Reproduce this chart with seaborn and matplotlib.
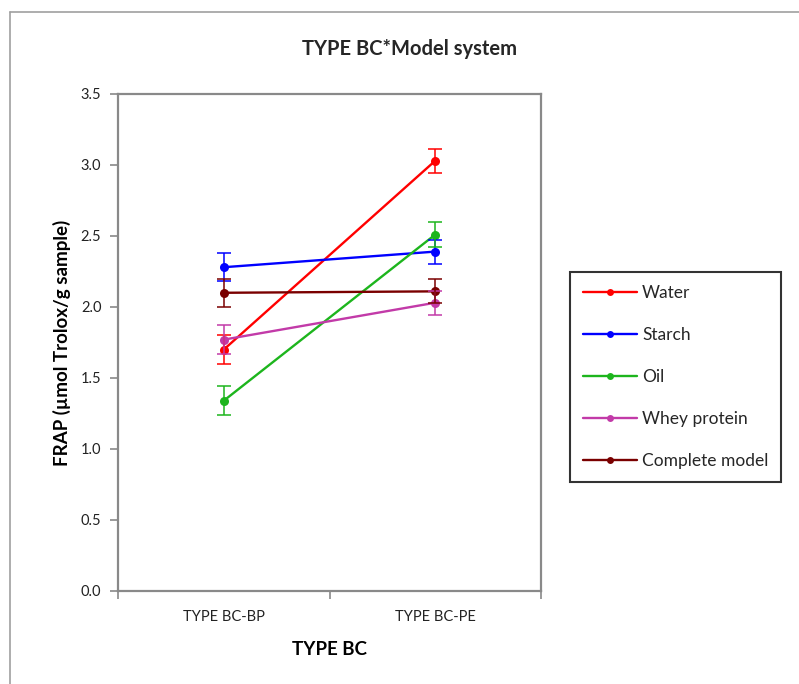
import numpy as np
import pandas as pd
import matplotlib.pyplot as plt
from matplotlib.lines import Line2D
import seaborn as sns

# data
types = ['TYPE BC-BP', 'TYPE BC-PE']
systems = ['Water', 'Starch', 'Oil', 'Whey protein', 'Complete model']
water = [1.70, 3.03]
starch = [2.28, 2.39]
oil = [1.34, 2.51]
whey = [1.77, 2.03]
complete = [2.10, 2.11]
err_bp = 0.10
err_pe = 0.085

colors = ['#FF0000', '#0000FF', '#1DB51D', '#C23AA8', '#7A0000']

rows = []
for name, vals in zip(systems, [water, starch, oil, whey, complete]):
    for t, v, e in zip(types, vals, [err_bp, err_pe]):
        rows.append({'type': t, 'system': name, 'frap': v, 'err': e})
df = pd.DataFrame(rows)

sns.set_style('white')
plt.rcParams['font.family'] = ['Lato', 'DejaVu Sans']

fig = plt.figure(figsize=(7.99, 6.84), dpi=100)
ax = fig.add_axes([0.1477, 0.136, 0.5294, 0.7266])

sns.lineplot(data=df, x='type', y='frap', hue='system', hue_order=systems,
             palette=colors, marker='o', markersize=6.5, markeredgewidth=0,
             linewidth=1.7, ax=ax, sort=False, legend=False)

for name, c in zip(systems, colors):
    d = df[df['system'] == name]
    ax.errorbar(d['type'], d['frap'], yerr=d['err'], fmt='none', ecolor=c,
                elinewidth=1.1, capsize=5, capthick=1.1)

ax.set_xlim(-0.5, 1.5)
ax.set_ylim(0, 3.5)
ax.set_yticks(np.arange(0, 3.51, 0.5))
ax.set_yticklabels([f'{v:.1f}' for v in np.arange(0, 3.51, 0.5)])
ax.set_xticks([0, 1])
ax.set_xticklabels(types)
ax.set_xticks([-0.5, 0.5, 1.5], minor=True)
ax.tick_params(axis='x', which='major', length=0, pad=14, labelsize=10.5, colors='#222222')
ax.tick_params(axis='x', which='minor', length=6, width=1.2, color='#898989', direction='out', bottom=True)
ax.tick_params(axis='y', length=6, width=1.2, color='#898989', direction='out', left=True,
               labelsize=10.5, labelcolor='#222222', pad=6)

for s in ax.spines.values():
    s.set_color('#898989')
    s.set_linewidth(1.6)

ax.set_xlabel('TYPE BC', fontsize=13.5, fontweight='bold', labelpad=12, color='black')
ax.set_ylabel('FRAP (µmol Trolox/g sample)', fontsize=13.5, fontweight='bold', labelpad=7, color='black')
fig.text(0.513, 0.929, 'TYPE BC*Model system', ha='center', va='center',
         fontsize=14.5, fontweight='bold')

handles = [Line2D([], [], color=c, marker='o', markersize=5, markeredgewidth=0, linewidth=1.7)
           for c in colors]
leg = fig.legend(handles, systems, loc='upper left', bbox_to_anchor=(0.7134, 0.6023),
                 frameon=True, fancybox=False, edgecolor='black', fontsize=12.5,
                 handlelength=3.1, handletextpad=0.3, labelspacing=1.5,
                 borderpad=0.75, borderaxespad=0)
leg.get_frame().set_linewidth(1.5)

# outer chart-area border (only top and left visible in the reference crop)
fig.add_artist(Line2D([10 / 799, 10 / 799], [0, 1 - 12 / 684], color='#A0A0A0', lw=1.2,
                      transform=fig.transFigure))
fig.add_artist(Line2D([10 / 799, 1], [1 - 12 / 684, 1 - 12 / 684], color='#A0A0A0', lw=1.2,
                      transform=fig.transFigure))

fig.savefig('out.png', dpi=100)
